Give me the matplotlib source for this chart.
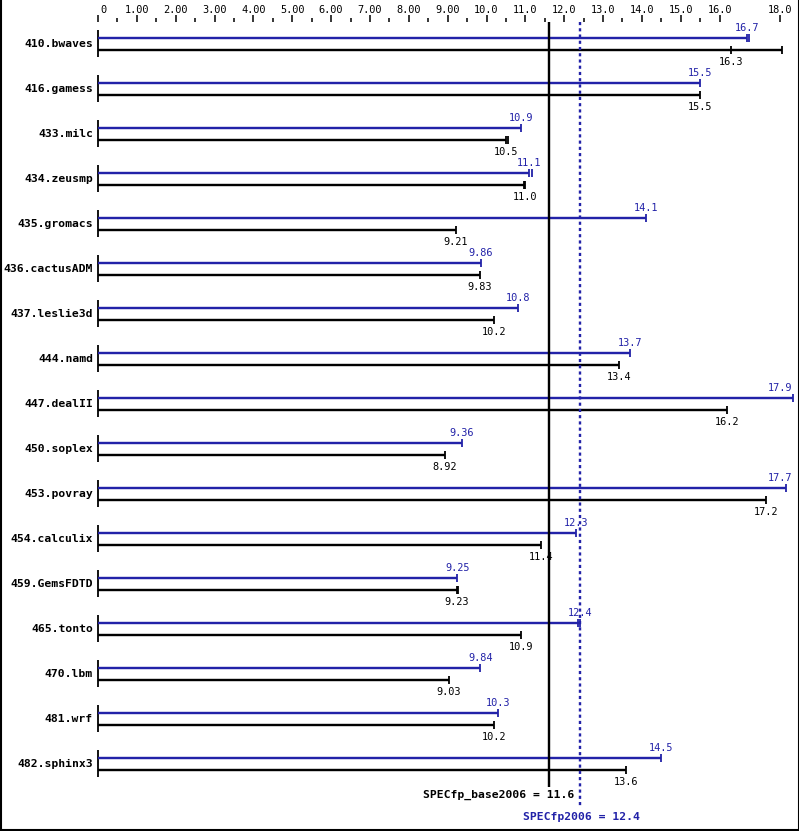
import matplotlib
matplotlib.use("Agg")
import matplotlib.pyplot as plt
from matplotlib.lines import Line2D

benchmarks = ["410.bwaves", "416.gamess", "433.milc", "434.zeusmp", "435.gromacs",
              "436.cactusADM", "437.leslie3d", "444.namd", "447.dealII", "450.soplex",
              "453.povray", "454.calculix", "459.GemsFDTD", "465.tonto", "470.lbm",
              "481.wrf", "482.sphinx3"]
peak = [16.7, 15.5, 10.9, 11.1, 14.1, 9.86, 10.8, 13.7, 17.9, 9.36,
        17.7, 12.3, 9.25, 12.4, 9.84, 10.3, 14.5]
base = [16.3, 15.5, 10.5, 11.0, 9.21, 9.83, 10.2, 13.4, 16.2, 8.92,
        17.2, 11.4, 9.23, 10.9, 9.03, 10.2, 13.6]
# longest bar extent per benchmark (other runs), where it differs from the median
base_bar_end = {"410.bwaves": 17.6}
peak_extra_ticks = {"410.bwaves": 16.75, "434.zeusmp": 11.17, "465.tonto": 12.35}
base_extra_ticks = {"433.milc": 10.56, "434.zeusmp": 10.97, "459.GemsFDTD": 9.27}
spec_base = 11.6
spec_peak = 12.4
tick_major = list(range(0, 17))
tick_minor = [i + 0.5 for i in range(0, 16)]
tick_labels = ["0"] + ["%.2f" % i for i in range(1, 10)] + ["%.1f" % i for i in range(10, 17)]
last_tick_label = "18.0"

BLUE = "#2222a8"
BLACK = "#000000"
W, H = 799, 831
X0 = 98.0          # pixel of value 0
S = 38.85          # pixels per unit
px = 1.0 / S       # one pixel in data units
LW = 2.4 * 0.72    # bar width in points

fig = plt.figure(figsize=(W / 100, H / 100), dpi=100)
ax = fig.add_axes([0, 0, 1, 1])
ax.set_xlim(-X0 / S, (W - X0) / S)
ax.set_ylim(H, 0)
ax.axis("off")

mono = "DejaVu Sans Mono"

# top axis
for t, lab in zip(tick_major, tick_labels):
    ax.plot([t, t], [15, 22], color=BLACK, lw=1.1, solid_capstyle="butt")
    if t == 0:
        ax.text(t + 2 * px, 10, lab, ha="left", va="center", fontsize=7.4, family=mono)
    else:
        ax.text(t, 10, lab, ha="center", va="center", fontsize=7.4, family=mono)
for t in tick_minor:
    ax.plot([t, t], [18, 22], color=BLACK, lw=1.1, solid_capstyle="butt")
t_last = (780 - X0) / S
ax.plot([t_last, t_last], [15, 22], color=BLACK, lw=1.1, solid_capstyle="butt")
ax.text(t_last, 10, last_tick_label, ha="center", va="center", fontsize=7.4, family=mono)

xmax_text = (792 - X0) / S

for i, name in enumerate(benchmarks):
    yb = 38 + 45 * i   # peak (blue)
    yk = yb + 12       # base (black)
    # axis segment
    ax.plot([0, 0], [yb - 8, yk + 7], color=BLACK, lw=1.3, solid_capstyle="butt")
    ax.text(-5 * px, (yb + yk) / 2, name, ha="right", va="center", fontsize=8.2,
            family=mono, fontweight="bold")
    # peak bar
    p = peak[i]
    ax.plot([0, p], [yb, yb], color=BLUE, lw=LW, solid_capstyle="butt")
    ax.plot([p, p], [yb - 4, yb + 4], color=BLUE, lw=1.3, solid_capstyle="butt")
    if name in peak_extra_ticks:
        e = peak_extra_ticks[name]
        ax.plot([e, e], [yb - 4, yb + 4], color=BLUE, lw=1.3, solid_capstyle="butt")
    half = len("%s" % p) * 3.0 * px
    tx = min(p, xmax_text - half)
    plab = ("%.3g" % p)
    ax.text(tx, yb - 10, plab, ha="center", va="center", fontsize=7.4, family=mono, color=BLUE)
    # base bar
    b = base[i]
    bend = base_bar_end.get(name, b)
    ax.plot([0, bend], [yk, yk], color=BLACK, lw=LW, solid_capstyle="butt")
    ax.plot([b, b], [yk - 4, yk + 4], color=BLACK, lw=1.3, solid_capstyle="butt")
    if bend != b:
        ax.plot([bend, bend], [yk - 4, yk + 4], color=BLACK, lw=1.3, solid_capstyle="butt")
    if name in base_extra_ticks:
        e = base_extra_ticks[name]
        ax.plot([e, e], [yk - 4, yk + 4], color=BLACK, lw=1.3, solid_capstyle="butt")
    blab = "%.3g" % b
    if blab == "11":
        blab = "11.0"
    ax.text(b, yk + 12, blab, ha="center", va="center", fontsize=7.4, family=mono, color=BLACK)

# overall lines
ax.plot([spec_base, spec_base], [22, 787], color=BLACK, lw=LW, solid_capstyle="butt")
ax.plot([spec_peak, spec_peak], [22, 808], color=BLUE, lw=LW, linestyle=(0, (1.3, 1.3)))
ax.text(spec_peak - 5 * px, 795, "SPECfp_base2006 = %.1f" % spec_base, ha="right", va="center",
        fontsize=8.2, family=mono, fontweight="bold", color=BLACK)
ax.text(spec_peak + 1.5 * px, 817, "SPECfp2006 = %.1f" % spec_peak, ha="center", va="center",
        fontsize=8.2, family=mono, fontweight="bold", color=BLUE)

# frame
for xs, ys in [([0.5, 0.5], [0, H]), ([W - 0.5, W - 0.5], [0, H]), ([0, W], [H - 1.5, H - 1.5])]:
    fig.add_artist(Line2D([x / W for x in xs], [1 - y / H for y in ys], color=BLACK, lw=1.5,
                          transform=fig.transFigure))

fig.savefig("out.png", dpi=100)
